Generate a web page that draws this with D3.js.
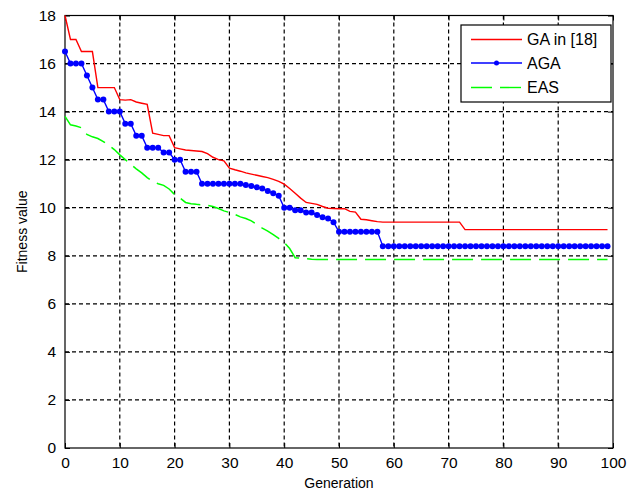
<!DOCTYPE html>
<html>
<head>
<meta charset="utf-8">
<script src="https://cdn.jsdelivr.net/npm/d3@7"></script>
<style>
  body { margin: 0; background: #fff; }
  text { font-family: "Liberation Sans", Arial, sans-serif; fill: #000; }
</style>
</head>
<body>
<div id="chart"></div>
<script>
// fitness value per generation (0..99)
const gaValues = [
  18.0, 17.0, 17.0, 16.5, 16.5, 16.5, 15.0, 15.0, 15.0, 15.0,
  14.5, 14.48, 14.5, 14.4, 14.35, 14.3, 13.1, 13.05, 13.0, 13.0,
  12.5, 12.45, 12.4, 12.38, 12.36, 12.34, 12.25, 12.1, 12.0, 11.95,
  11.65, 11.58, 11.52, 11.45, 11.4, 11.35, 11.3, 11.25, 11.18, 11.1,
  10.98, 10.8, 10.6, 10.4, 10.22, 10.18, 10.14, 10.05, 9.98, 9.97,
  9.96, 9.96, 9.85, 9.82, 9.52, 9.5, 9.46, 9.42, 9.4, 9.4,
  9.4, 9.4, 9.4, 9.4, 9.4, 9.4, 9.4, 9.4, 9.4, 9.4,
  9.4, 9.4, 9.4, 9.09, 9.09, 9.09, 9.09, 9.09, 9.09, 9.09,
  9.09, 9.09, 9.09, 9.09, 9.09, 9.09, 9.09, 9.09, 9.09, 9.09,
  9.09, 9.09, 9.09, 9.09, 9.09, 9.09, 9.09, 9.09, 9.09, 9.09
];
const agaValues = [
  16.5, 16.0, 16.0, 16.0, 15.5, 15.0, 14.5, 14.5, 14.0, 14.0,
  14.0, 13.5, 13.5, 13.0, 13.0, 12.5, 12.5, 12.5, 12.3, 12.3,
  12.0, 12.0, 11.5, 11.5, 11.5, 11.0, 11.0, 11.0, 11.0, 11.0,
  11.0, 11.0, 11.0, 10.95, 10.9, 10.85, 10.8, 10.7, 10.6, 10.5,
  10.0, 10.0, 9.9, 9.9, 9.8, 9.8, 9.7, 9.6, 9.55, 9.4,
  9.0, 9.0, 9.0, 9.0, 9.0, 9.0, 9.0, 9.0, 8.4, 8.4,
  8.4, 8.4, 8.4, 8.4, 8.4, 8.4, 8.4, 8.4, 8.4, 8.4,
  8.4, 8.4, 8.4, 8.4, 8.4, 8.4, 8.4, 8.4, 8.4, 8.4,
  8.4, 8.4, 8.4, 8.4, 8.4, 8.4, 8.4, 8.4, 8.4, 8.4,
  8.4, 8.4, 8.4, 8.4, 8.4, 8.4, 8.4, 8.4, 8.4, 8.4
];
const easValues = [
  13.8, 13.45, 13.4, 13.33, 13.05, 12.95, 12.88, 12.75, 12.6, 12.42,
  12.2, 12.0, 11.8, 11.62, 11.45, 11.25, 11.1, 11.0, 10.93, 10.78,
  10.55, 10.4, 10.22, 10.17, 10.14, 10.12, 10.1, 10.05, 9.97, 9.87,
  9.8, 9.72, 9.62, 9.55, 9.45, 9.3, 9.15, 9.03, 8.88, 8.72,
  8.55, 8.3, 7.92, 7.9, 7.88, 7.86, 7.85, 7.85, 7.85, 7.85,
  7.85, 7.85, 7.85, 7.85, 7.85, 7.85, 7.85, 7.85, 7.85, 7.85,
  7.85, 7.85, 7.85, 7.85, 7.85, 7.85, 7.85, 7.85, 7.85, 7.85,
  7.85, 7.85, 7.85, 7.85, 7.85, 7.85, 7.85, 7.85, 7.85, 7.85,
  7.85, 7.85, 7.85, 7.85, 7.85, 7.85, 7.85, 7.85, 7.85, 7.85,
  7.85, 7.85, 7.85, 7.85, 7.85, 7.85, 7.85, 7.85, 7.85, 7.85
];
const xTicks = [0, 10, 20, 30, 40, 50, 60, 70, 80, 90, 100];
const yTicks = [0, 2, 4, 6, 8, 10, 12, 14, 16, 18];
const seriesNames = ["GA in [18]", "AGA", "EAS"];

const width = 638, height = 491;
const margin = { top: 15.5, right: 25, bottom: 43, left: 65 };
const w = width - margin.left - margin.right;
const h = height - margin.top - margin.bottom;

const svg = d3.select("#chart").append("svg")
  .attr("width", width).attr("height", height);
const g = svg.append("g")
  .attr("transform", "translate(" + margin.left + "," + margin.top + ")");

const x = d3.scaleLinear().domain([0, 100]).range([0, w]);
const y = d3.scaleLinear().domain([0, 18]).range([h, 0]);

// dashed grid
g.append("g").selectAll("line").data(xTicks.slice(1, -1)).enter().append("line")
  .attr("x1", d => x(d)).attr("x2", d => x(d)).attr("y1", 0).attr("y2", h)
  .attr("stroke", "#000").attr("stroke-width", 1.2).attr("stroke-dasharray", "4,3");
g.append("g").selectAll("line").data(yTicks.slice(1, -1)).enter().append("line")
  .attr("y1", d => y(d)).attr("y2", d => y(d)).attr("x1", 0).attr("x2", w)
  .attr("stroke", "#000").attr("stroke-width", 1.2).attr("stroke-dasharray", "4,3");

// axes with inner ticks on all four sides
const tickLen = 5;
const xb = g.append("g").attr("transform", "translate(0," + h + ")")
  .call(d3.axisBottom(x).tickValues(xTicks).tickSizeInner(-tickLen).tickSizeOuter(0).tickPadding(9));
const yl = g.append("g")
  .call(d3.axisLeft(y).tickValues(yTicks).tickSizeInner(-tickLen).tickSizeOuter(0).tickPadding(9));
g.append("g").call(d3.axisTop(x).tickValues(xTicks).tickSizeInner(-tickLen).tickSizeOuter(0).tickFormat(""));
g.append("g").attr("transform", "translate(" + w + ",0)")
  .call(d3.axisRight(y).tickValues(yTicks).tickSizeInner(-tickLen).tickSizeOuter(0).tickFormat(""));
g.selectAll(".domain").remove();
g.selectAll(".tick line").attr("stroke", "#000");
[xb, yl].forEach(a => a.selectAll("text")
  .attr("font-family", "'Liberation Sans', Arial, sans-serif")
  .attr("font-size", "15.5px").attr("fill", "#000"));

g.append("rect").attr("width", w).attr("height", h)
  .attr("fill", "none").attr("stroke", "#000").attr("stroke-width", 1.2);

// lines
const line = d3.line().x((d, i) => x(i)).y(d => y(d));

g.append("path").datum(easValues)
  .attr("d", line).attr("fill", "none")
  .attr("stroke", "#00ff00").attr("stroke-width", 1.5)
  .attr("stroke-dasharray", "21,8");

g.append("path").datum(gaValues)
  .attr("d", line).attr("fill", "none")
  .attr("stroke", "#ff0000").attr("stroke-width", 1.4);

g.append("path").datum(agaValues)
  .attr("d", line).attr("fill", "none")
  .attr("stroke", "#0000ff").attr("stroke-width", 1.4);
g.append("g").selectAll("circle").data(agaValues).enter().append("circle")
  .attr("cx", (d, i) => x(i)).attr("cy", d => y(d)).attr("r", 3)
  .attr("fill", "#0000ff");

// legend
const lg = svg.append("g").attr("transform", "translate(461,25)");
lg.append("rect").attr("width", 150).attr("height", 77)
  .attr("fill", "#fff").attr("stroke", "#000").attr("stroke-width", 1.2);
const legColors = ["#ff0000", "#0000ff", "#00ff00"];
const rowY = [14.5, 38, 62.5];
seriesNames.forEach((name, i) => {
  const l = lg.append("line").attr("x1", 10).attr("x2", 61)
    .attr("y1", rowY[i]).attr("y2", rowY[i])
    .attr("stroke", legColors[i]).attr("stroke-width", 1.4);
  if (i === 2) l.attr("stroke-dasharray", "21,8");
  if (i === 1) lg.append("circle").attr("cx", 35.5).attr("cy", rowY[i]).attr("r", 2.5).attr("fill", legColors[i]);
  lg.append("text").attr("x", 66).attr("y", rowY[i]).attr("dy", "0.35em")
    .attr("font-size", "16px").text(name);
});

// axis labels
svg.append("text").attr("x", margin.left + w / 2).attr("y", 488)
  .attr("text-anchor", "middle").attr("font-size", "14px").text("Generation");
svg.append("text").attr("transform", "translate(27," + (margin.top + h / 2) + ") rotate(-90)")
  .attr("text-anchor", "middle").attr("font-size", "14px").text("Fitness value");
</script>
</body>
</html>
